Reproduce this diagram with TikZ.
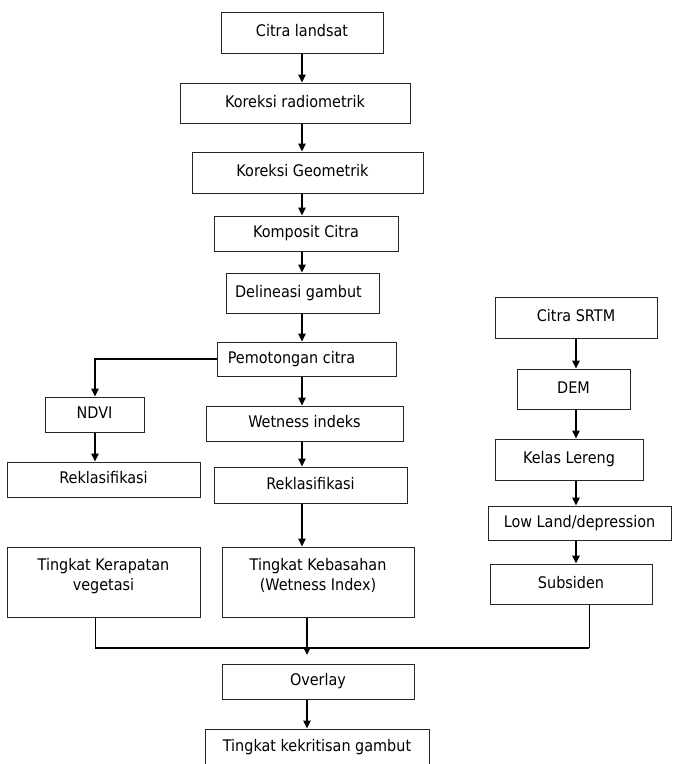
\documentclass[tikz,border=0pt]{standalone}
\usepackage{fontspec}
\setmainfont{DejaVu Sans}[FakeStretch=0.9]
\usetikzlibrary{arrows.meta}
\begin{document}
\begin{tikzpicture}[x=1pt,y=-1pt,
  box/.style={draw=black!85, line width=1pt, rectangle, inner sep=0pt,
    text height=11.5pt, text depth=3.5pt, font=\fontsize{16}{20}\selectfont},
  tbox/.style={draw=black!85, line width=1pt, rectangle, inner sep=0pt},
  ttext/.style={anchor=north, inner sep=0pt, align=center, font=\fontsize{16}{20}\selectfont},
  arr/.style={line width=1.6pt, draw=black, -{Triangle[length=8pt,width=7.5pt]}},
  conn/.style={line width=0.9pt, draw=black},
  hconn/.style={line width=1.6pt, draw=black}]
\useasboundingbox (0,0) rectangle (673,764);
\fill[white] (0,0) rectangle (673,764);
% main column
\node[box, minimum width=162pt, minimum height=41pt] (landsat) at (302,32.5) {Citra landsat};
\node[box, minimum width=230pt, minimum height=40pt] (radio) at (295,103) {Koreksi radiometrik};
\node[box, minimum width=231pt, minimum height=41pt] (geo) at (307.5,172.5) {\hspace*{-10pt}Koreksi Geometrik};
\node[box, minimum width=184pt, minimum height=35pt] (komp) at (306,233.5) {Komposit Citra};
\node[box, minimum width=153pt, minimum height=40pt] (delin) at (302.5,293) {\hspace*{-8pt}Delineasi gambut};
\node[box, minimum width=179pt, minimum height=34pt] (pemot) at (306.5,359) {\hspace*{-30pt}Pemotongan citra};
\node[box, minimum width=99pt, minimum height=35pt] (ndvi) at (94.5,414.5) {NDVI};
\node[box, minimum width=193pt, minimum height=35pt] (rekl1) at (103.5,479.5) {Reklasifikasi};
\node[box, minimum width=197pt, minimum height=35pt] (wet) at (304.5,423.5) {Wetness indeks};
\node[box, minimum width=193pt, minimum height=36pt] (rekl2) at (310.5,485) {Reklasifikasi};
\node[tbox, minimum width=193pt, minimum height=70pt] (kerap) at (103.5,582) {};
\node[ttext] (kerapT) at (103.5,558) {Tingkat Kerapatan\\vegetasi};
\node[tbox, minimum width=192pt, minimum height=70pt] (keb) at (318,582) {};
\node[ttext] (kebT) at (318,558) {Tingkat Kebasahan\\(Wetness Index)};
% right column
\node[box, minimum width=162pt, minimum height=41pt] (srtm) at (576,317.5) {Citra SRTM};
\node[box, minimum width=113pt, minimum height=40pt] (dem) at (573.5,389) {DEM};
\node[box, minimum width=148pt, minimum height=41pt] (lereng) at (569,459.5) {Kelas Lereng};
\node[box, minimum width=183pt, minimum height=34pt] (low) at (579.5,523) {Low Land/depression};
\node[box, minimum width=162pt, minimum height=40pt] (subs) at (571,584) {Subsiden};
% bottom
\node[box, minimum width=192pt, minimum height=35pt] (overlay) at (318,681.5) {Overlay};
\node[box, minimum width=224pt, minimum height=37pt] (krit) at (317,747.5) {Tingkat kekritisan gambut};
% coordinates
\coordinate (mx) at (302,0);
\coordinate (rx) at (576,0);
\coordinate (bl) at (95,648);
\coordinate (br) at (589,648);
\coordinate (jn) at (307,648);
\coordinate (jtip) at (307,655);
% main arrows
\draw[arr] (landsat.south -| mx) -- (radio.north -| mx);
\draw[arr] (radio.south -| mx) -- (geo.north -| mx);
\draw[arr] (geo.south -| mx) -- (komp.north -| mx);
\draw[arr] (komp.south -| mx) -- (delin.north -| mx);
\draw[arr] (delin.south -| mx) -- (pemot.north -| mx);
\draw[arr] (pemot.south -| mx) -- (wet.north -| mx);
\draw[arr] (wet.south -| mx) -- (rekl2.north -| mx);
\draw[arr] (rekl2.south -| mx) -- (keb.north -| mx);
% ndvi branch
\draw[arr] (pemot.west) -| (ndvi.north -| bl);
\draw[arr] (ndvi.south -| bl) -- (rekl1.north -| bl);
% right column arrows
\draw[arr] (srtm.south -| rx) -- (dem.north -| rx);
\draw[arr] (dem.south -| rx) -- (lereng.north -| rx);
\draw[arr] (lereng.south -| rx) -- (low.north -| rx);
\draw[arr] (low.south -| rx) -- (subs.north -| rx);
% bottom connectors
\draw[conn] (kerap.south -| bl) -- (bl);
\draw[conn] (subs.south -| br) -- (br);
\draw[hconn] (bl) -- (br);
\draw[arr] (keb.south -| jn) -- (jtip);
\draw[arr] (overlay.south -| jn) -- (krit.north -| jn);
\end{tikzpicture}
\end{document}
